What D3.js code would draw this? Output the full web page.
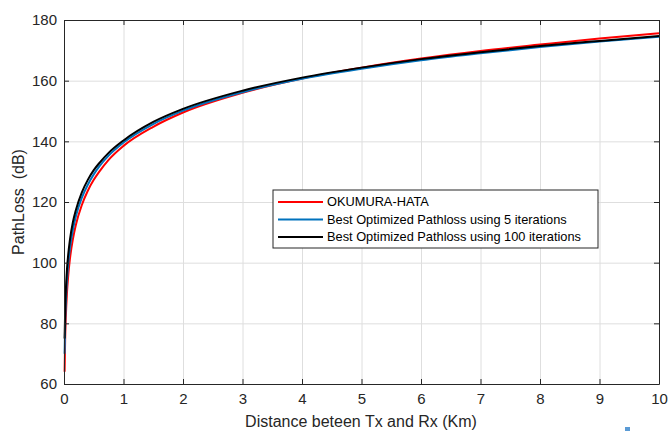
<!DOCTYPE html>
<html>
<head>
<meta charset="utf-8">
<script src="https://cdn.jsdelivr.net/npm/d3@7"></script>
<style>
	body { margin: 0; background: #fff; }
	text { font-family: "Liberation Sans", Arial, sans-serif; }
</style>
</head>
<body>
<div id="chart"></div>
<script>
// values (distance in km, path loss in dB)
var distKm      = [0.01, 0.02, 0.03, 0.05, 0.07, 0.1, 0.15, 0.2, 0.3, 0.4, 0.5, 0.6, 0.75, 1, 1.5, 2, 3, 4, 5, 6, 7, 8, 9, 10];
var hataLoss    = [64, 75.3, 81.8, 90.1, 95.5, 101.3, 107.8, 112.5, 119, 123.7, 127.3, 130.2, 133.9, 138.5, 144.8, 149.5, 156, 160.7, 164.3, 167.3, 169.8, 171.9, 173.9, 175.6];
var best5Loss   = [70, 80.5, 86.6, 94.3, 99.4, 104.8, 110.9, 115.3, 121.4, 125.7, 129.1, 131.9, 135.3, 139.6, 145.7, 150.1, 156.2, 160.6, 163.9, 166.7, 169, 171.1, 172.9, 174.5];
var best100Loss = [75, 84.7, 90.5, 97.8, 102.5, 107.6, 113.4, 117.4, 123.2, 127.3, 130.5, 133, 136.2, 140.3, 146.4, 150.7, 156.7, 161, 164.3, 167.1, 169.4, 171.4, 173.1, 174.7];

var seriesNames  = ["OKUMURA-HATA", "Best Optimized Pathloss using 5 iterations", "Best Optimized Pathloss using 100 iterations"];
var seriesColors = ["#ff0000", "#0072bd", "#000000"];
var xTicks = [0, 1, 2, 3, 4, 5, 6, 7, 8, 9, 10];
var yTicks = [60, 80, 100, 120, 140, 160, 180];

var width = 670, height = 431;
var plot_l = 64, plot_t = 20, plot_r = 659, plot_b = 384;
var axis_color = "#262626";
var grid_color = "#dedede";

var svg = d3.select("#chart").append("svg")
	.attr("width", width)
	.attr("height", height);

var x = d3.scaleLinear().domain([0, 10]).range([plot_l, plot_r]);
var y = d3.scaleLinear().domain([60, 180]).range([plot_b, plot_t]);

// grid
svg.append("g")
	.attr("transform", "translate(0," + plot_b + ")")
	.call(d3.axisBottom(x).tickValues(xTicks).tickSize(-(plot_b - plot_t)).tickFormat(""))
	.call(function(g) {
		g.select(".domain").remove();
		g.selectAll("line").attr("stroke", grid_color);
	});
svg.append("g")
	.attr("transform", "translate(" + plot_l + ",0)")
	.call(d3.axisLeft(y).tickValues(yTicks).tickSize(-(plot_r - plot_l)).tickFormat(""))
	.call(function(g) {
		g.select(".domain").remove();
		g.selectAll("line").attr("stroke", grid_color);
	});

// curves
var series = [hataLoss, best5Loss, best100Loss];
var line = d3.line()
	.x(function(v, i) { return x(distKm[i]); })
	.y(function(v) { return y(v); })
	.curve(d3.curveMonotoneX);

svg.append("g").selectAll("path")
	.data(series)
	.enter().append("path")
	.attr("fill", "none")
	.attr("stroke", function(s, i) { return seriesColors[i]; })
	.attr("stroke-width", 2)
	.attr("d", line);

// axes with inward ticks (box on all four sides)
function styleAxis(g) {
	g.select(".domain").attr("stroke", axis_color);
	g.selectAll(".tick line").attr("stroke", axis_color);
	g.selectAll(".tick text").attr("fill", axis_color).style("font-size", "15px");
}
svg.append("g")
	.attr("transform", "translate(0," + plot_b + ")")
	.call(d3.axisBottom(x).tickValues(xTicks).tickSizeInner(-5).tickSizeOuter(0).tickPadding(9))
	.call(styleAxis);
svg.append("g")
	.attr("transform", "translate(0," + plot_t + ")")
	.call(d3.axisTop(x).tickValues(xTicks).tickSizeInner(-5).tickSizeOuter(0).tickFormat(""))
	.call(styleAxis);
svg.append("g")
	.attr("transform", "translate(" + plot_l + ",0)")
	.call(d3.axisLeft(y).tickValues(yTicks).tickSizeInner(-5).tickSizeOuter(0).tickPadding(7))
	.call(styleAxis);
svg.append("g")
	.attr("transform", "translate(" + plot_r + ",0)")
	.call(d3.axisRight(y).tickValues(yTicks).tickSizeInner(-5).tickSizeOuter(0).tickFormat(""))
	.call(styleAxis);

// axis labels
svg.append("text")
	.attr("x", 361)
	.attr("y", 427)
	.attr("text-anchor", "middle")
	.style("font-size", "16px")
	.attr("fill", axis_color)
	.text("Distance beteen Tx and Rx (Km)");
svg.append("text")
	.attr("transform", "translate(24,202) rotate(-90)")
	.attr("text-anchor", "middle")
	.style("font-size", "16px")
	.attr("fill", axis_color)
	.attr("xml:space", "preserve")
	.text("PathLoss  (dB)");

// legend
var legend = svg.append("g").attr("transform", "translate(273,190)");
legend.append("rect")
	.attr("width", 325)
	.attr("height", 58)
	.attr("fill", "#fff")
	.attr("stroke", axis_color)
	.attr("stroke-width", 1);
var row = legend.selectAll("g.row")
	.data(seriesNames)
	.enter().append("g")
	.attr("class", "row")
	.attr("transform", function(d, i) { return "translate(0," + (12 + i * 17.5) + ")"; });
row.append("line")
	.attr("x1", 5).attr("x2", 50)
	.attr("stroke", function(d, i) { return seriesColors[i]; })
	.attr("stroke-width", 2);
row.append("text")
	.attr("x", 54)
	.attr("dy", "0.35em")
	.style("font-size", "12.8px")
	.attr("fill", "#000")
	.text(function(d) { return d; });

// small stray mark at the bottom right of the figure
svg.append("rect")
	.attr("x", 625).attr("y", 427)
	.attr("width", 5).attr("height", 4)
	.attr("fill", "#5b9bd5");
</script>
</body>
</html>
